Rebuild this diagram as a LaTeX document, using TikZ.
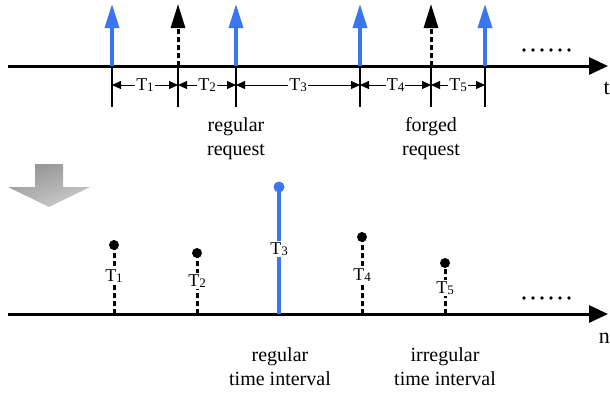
\documentclass[tikz,border=0pt]{standalone}
\usepackage{fontspec}
\setmainfont{Liberation Serif}
\usetikzlibrary{arrows.meta}
\definecolor{reqblue}{RGB}{58,118,240}
\newcommand{\tlab}[1]{T\raisebox{-0.6pt}{\fontsize{13}{13}\selectfont #1}}
\tikzset{
  axisline/.style={line width=3pt,-{Triangle[length=19pt,width=17pt]}},
  regarrow/.style={reqblue,line width=3.5pt,-{Triangle[length=24pt,width=14pt]}},
  forgearrow/.style={black,line width=3pt,dash pattern=on 5pt off 3pt,-{Triangle[length=24pt,width=14pt]}},
  tickline/.style={line width=1.8pt},
  dimline/.style={line width=0.8pt,{Triangle[length=9pt,width=8pt]}-{Triangle[length=9pt,width=8pt]}},
  dimlabel/.style={fill=white,inner sep=1pt,font=\fontsize{18}{18}\selectfont},
  caption/.style={align=center,font=\fontsize{20}{24}\selectfont},
  axislabel/.style={anchor=east,inner sep=0pt,font=\fontsize{22}{22}\selectfont},
  regstem/.style={reqblue,line width=3.5pt},
  irrstem/.style={black,line width=3pt,dash pattern=on 5pt off 3pt},
  stemlabel/.style={fill=white,inner sep=1.5pt,font=\fontsize{18}{18}\selectfont},
  blackdot/.style={circle,fill=black,inner sep=0pt,minimum size=10pt},
  bluedot/.style={circle,fill=reqblue,inner sep=0pt,minimum size=11pt},
  ellipsisdot/.style={circle,fill=black,inner sep=0pt,minimum size=3.6pt},
}
\begin{document}
\begin{tikzpicture}[x=1pt,y=-1pt]
\useasboundingbox (0,0) rectangle (610,392);

% ---- upper time axis: requests over time ----
\coordinate (ta0) at (8,66);
\coordinate (ta1) at (608,66);
\draw[axisline] (ta0) -- (ta1);
\node[axislabel] (tlabel) at (610,88) {t};

\foreach \n/\x in {r1/112,f1/178,r2/236,r3/360,f2/431,r4/485}{
  \coordinate (\n base) at (\x,66);
  \coordinate (\n top) at (\x,4);
  \coordinate (\n mid) at (\x,85);
  \coordinate (\n foot) at (\x,107);
}
\foreach \n in {r1,r2,r3,r4}{ \draw[regarrow] (\n base) -- (\n top); }
\foreach \n in {f1,f2}{ \draw[forgearrow] (\n base) -- (\n top); }
\foreach \n in {r1,f1,r2,r3,f2,r4}{ \draw[tickline] (\n base) -- (\n foot); }

% interval dimensions between consecutive requests
\foreach \a/\b/\k in {r1/f1/1,f1/r2/2,r2/r3/3,r3/f2/4,f2/r4/5}{
  \draw[dimline] (\a mid) -- (\b mid) node[midway,dimlabel] (d\k) {\tlab{\k}};
}

\foreach \i/\x in {1/524,2/533,3/542,4/551,5/560,6/569}{
  \node[ellipsisdot] (ue\i) at (\x,50) {};
}

\node[caption] (regreq) at (236,139) {regular\\request};
\node[caption] (forgreq) at (431,139) {forged\\request};

% ---- shaded transition arrow ----
\shade[top color=gray!85,bottom color=gray!40,shading angle=20]
  (35,164) -- (63,164) -- (63,187) -- (90,187) -- (49,207) -- (8,187) -- (35,187) -- cycle;

% ---- lower axis: intervals per request ----
\coordinate (na0) at (8,314);
\coordinate (na1) at (608,314);
\draw[axisline] (na0) -- (na1);
\node[axislabel] (nlabel) at (610,338) {n};

\foreach \k/\x/\dy/\ly in {1/114/245/276,2/197/253/281,4/362/237/275,5/445/263/288}{
  \coordinate (s\k) at (\x,314);
  \node[blackdot] (p\k) at (\x,\dy) {};
  \draw[irrstem] (s\k) -- (p\k.center);
  \node[stemlabel] (l\k) at (\x,\ly) {\tlab{\k}};
}
\coordinate (s3) at (279,314);
\node[bluedot] (p3) at (279,187) {};
\draw[regstem] (s3) -- (p3.center);
\node[stemlabel] (l3) at (279,249) {\tlab{3}};

\foreach \i/\x in {1/524,2/533,3/542,4/551,5/560,6/569}{
  \node[ellipsisdot] (le\i) at (\x,298) {};
}

\node[caption] (regint) at (280,367) {regular\\time interval};
\node[caption] (irrint) at (445,367) {irregular\\time interval};
\end{tikzpicture}
\end{document}
